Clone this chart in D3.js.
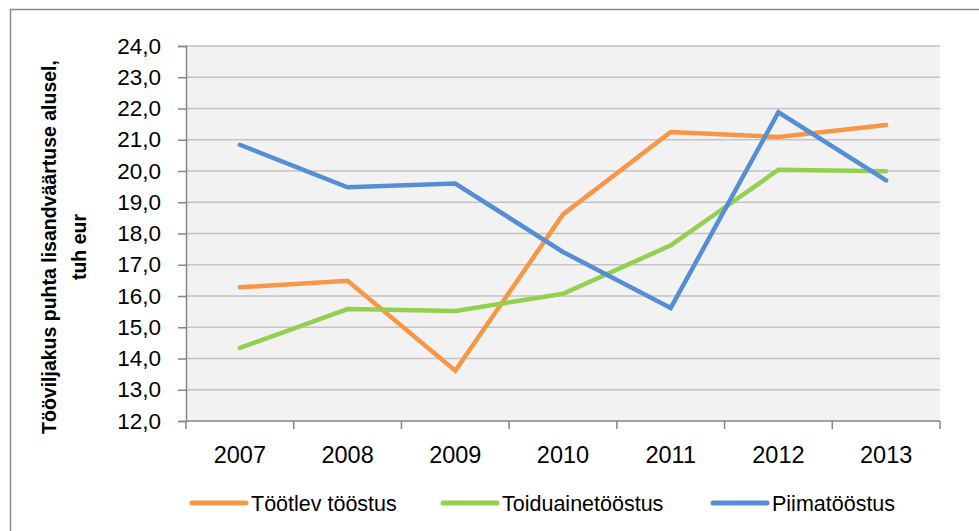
<!DOCTYPE html>
<html>
<head>
<meta charset="utf-8">
<script src="https://cdn.jsdelivr.net/npm/d3@7"></script>
<style>
  body { margin: 0; background: #fff; }
  text { font-family: "Liberation Sans", Arial, sans-serif; fill: #000; }
</style>
</head>
<body>
<div class="chart"></div>
<script>
var years = ["2007", "2008", "2009", "2010", "2011", "2012", "2013"];
var tootlev = [16.28, 16.49, 13.61, 18.61, 21.25, 21.09, 21.47];
var toiduaine = [14.34, 15.58, 15.52, 16.07, 17.62, 20.04, 19.99];
var piima = [20.84, 19.48, 19.6, 17.41, 15.62, 21.88, 19.7];
var yTicks = [12, 13, 14, 15, 16, 17, 18, 19, 20, 21, 22, 23, 24];

var seriesNames = ["Töötlev tööstus", "Toiduainetööstus", "Piimatööstus"];
var seriesColors = ["#f79646", "#92d050", "#558ed5"];

var svgWidth = 979;
var svgHeight = 531;
var margin = { top: 46, right: 39, bottom: 110, left: 186 };
var width = svgWidth - margin.left - margin.right;
var height = svgHeight - margin.top - margin.bottom;

var svg = d3.select(".chart")
  .append("svg")
  .attr("width", svgWidth)
  .attr("height", svgHeight);

// outer chart border
svg.append("rect")
  .attr("x", 10.5)
  .attr("y", 9.5)
  .attr("width", 980)
  .attr("height", 540)
  .attr("fill", "none")
  .attr("stroke", "#898989")
  .attr("stroke-width", 1.5);

var chart = svg.append("g")
  .attr("transform", "translate(" + margin.left + "," + margin.top + ")");

var xBand = d3.scaleBand().domain(years).range([0, width]);
var x = function(d) { return xBand(d) + xBand.bandwidth() / 2; };
var y = d3.scaleLinear().domain([12, 24]).range([height, 0]);

chart.append("rect")
  .attr("width", width)
  .attr("height", height)
  .attr("fill", "#f2f2f2");

// gridlines
chart.selectAll(".grid")
  .data(yTicks.slice(1))
  .enter()
  .append("line")
  .attr("class", "grid")
  .attr("x1", 0)
  .attr("x2", width)
  .attr("y1", function(d) { return y(d); })
  .attr("y2", function(d) { return y(d); })
  .attr("stroke", "#c3c3c3")
  .attr("stroke-width", 1.5);

var leftAxis = d3.axisLeft(y)
  .tickValues(yTicks)
  .tickSize(8)
  .tickPadding(17)
  .tickFormat(function(d) { return d3.format(".1f")(d).replace(".", ","); });

var yAxisG = chart.append("g").call(leftAxis);
yAxisG.selectAll("text").style("font-size", "22.5px");

// x axis with ticks at category boundaries
var xAxisG = chart.append("g").attr("transform", "translate(0," + height + ")");
xAxisG.append("line")
  .attr("x1", 0).attr("x2", width)
  .attr("stroke", "#868686").attr("stroke-width", 1.5);
xAxisG.selectAll(".xtick")
  .data(years.concat(["end"]))
  .enter()
  .append("line")
  .attr("x1", function(d, i) { return i * xBand.step(); })
  .attr("x2", function(d, i) { return i * xBand.step(); })
  .attr("y1", 0)
  .attr("y2", 8)
  .attr("stroke", "#868686")
  .attr("stroke-width", 1.5);
xAxisG.selectAll(".xlabel")
  .data(years)
  .enter()
  .append("text")
  .attr("x", function(d) { return x(d); })
  .attr("y", 42)
  .attr("text-anchor", "middle")
  .style("font-size", "23.5px")
  .text(function(d) { return d; });

yAxisG.select(".domain").attr("stroke", "#868686").attr("stroke-width", 1.5);
yAxisG.selectAll(".tick line").attr("stroke", "#868686").attr("stroke-width", 1.5);

// lines
var line = d3.line()
  .x(function(d, i) { return x(years[i]); })
  .y(function(d) { return y(d); });

[tootlev, toiduaine, piima].forEach(function(vals, i) {
  chart.append("path")
    .datum(vals)
    .attr("d", line)
    .attr("fill", "none")
    .attr("stroke", seriesColors[i])
    .attr("stroke-width", 4.5)
    .attr("stroke-linecap", "round")
    .attr("stroke-linejoin", "miter");
});

// y axis title
var title = svg.append("text")
  .attr("transform", "translate(56,247) rotate(-90)")
  .attr("text-anchor", "middle")
  .style("font-size", "19.5px")
  .style("font-weight", "bold");
title.append("tspan").attr("x", 0).attr("dy", 0).text("Tööviljakus puhta lisandväärtuse alusel,");
title.append("tspan").attr("x", 0).attr("dy", 30).text("tuh eur");

// legend
var legendX = [192, 443, 713];
var legend = svg.selectAll(".legend")
  .data(seriesNames)
  .enter()
  .append("g")
  .attr("class", "legend")
  .attr("transform", function(d, i) { return "translate(" + legendX[i] + ",503)"; });
legend.append("line")
  .attr("x1", 0).attr("x2", 54)
  .attr("stroke", function(d, i) { return seriesColors[i]; })
  .attr("stroke-width", 5)
  .attr("stroke-linecap", "round");
legend.append("text")
  .attr("x", 59)
  .attr("y", 8)
  .style("font-size", "21.5px")
  .text(function(d) { return d; });
</script>
</body>
</html>
